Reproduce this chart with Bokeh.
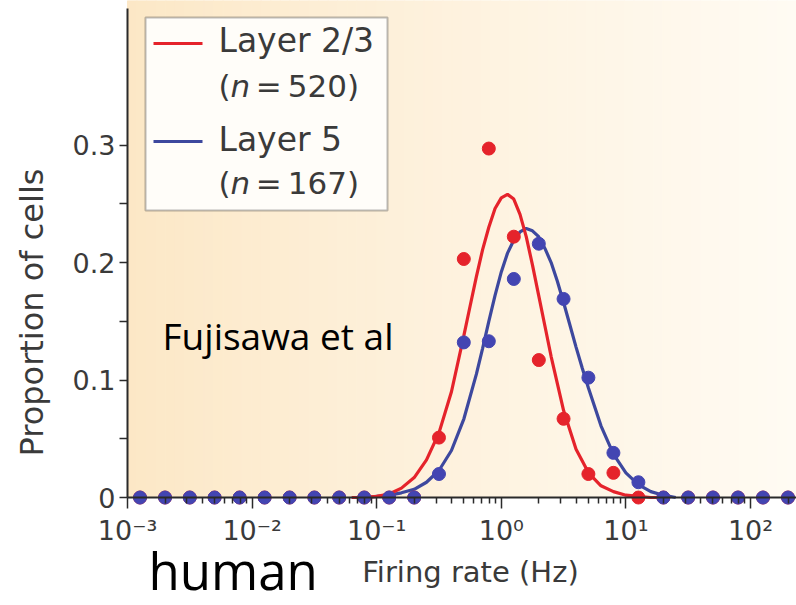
import numpy as np
from bokeh.plotting import figure
from bokeh.models import Range1d, FixedTicker, Label, BoxAnnotation
from bokeh.embed import file_html
from bokeh.resources import INLINE

# ---------------- data ----------------
# bin centres of the firing-rate histogram (Hz)
rate_bins = [0.00126, 0.002, 0.00316, 0.005, 0.00794, 0.0126, 0.02, 0.0316, 0.05,
             0.0794, 0.126, 0.2, 0.316, 0.5, 0.794, 1.26, 2.0, 3.16, 5.0, 7.94,
             12.6, 20.0, 31.6, 50.0, 79.4, 126.0, 200.0]
layer23_prop = [0, 0, 0, 0, 0, 0, 0, 0, 0, 0, 0, 0,
                0.051, 0.203, 0.297, 0.222, 0.117, 0.067, 0.020, 0.021,
                0, 0, 0, 0, 0, 0, 0]
layer5_prop = [0, 0, 0, 0, 0, 0, 0, 0, 0, 0, 0, 0,
               0.020, 0.132, 0.133, 0.186, 0.216, 0.169, 0.102, 0.038, 0.013,
               0, 0, 0, 0, 0, 0]

# fitted curves (rate in Hz, proportion)
layer23_fit_rate = [0.0631, 0.0794, 0.1, 0.126, 0.158, 0.2, 0.251, 0.316, 0.398, 0.501,
                    0.562, 0.631, 0.708, 0.794, 0.891, 1.0, 1.122, 1.259, 1.413, 1.585,
                    1.778, 1.995, 2.239, 2.512, 3.162, 3.981, 5.012, 6.31, 7.943, 10.0,
                    12.59, 15.85, 19.95]
layer23_fit = [0.000, 0.000, 0.001, 0.003, 0.008, 0.017, 0.032, 0.055, 0.090, 0.138,
               0.163, 0.188, 0.211, 0.230, 0.246, 0.255, 0.258, 0.254, 0.241, 0.222,
               0.198, 0.172, 0.146, 0.120, 0.074, 0.041, 0.021, 0.010, 0.005, 0.002,
               0.001, 0.000, 0.000]
layer5_fit_rate = [0.0631, 0.0794, 0.1, 0.126, 0.158, 0.2, 0.251, 0.316, 0.398, 0.501,
                   0.631, 0.708, 0.794, 0.891, 1.0, 1.122, 1.259, 1.413, 1.585, 1.778,
                   1.995, 2.239, 2.512, 2.818, 3.162, 3.548, 3.981, 4.467, 5.012, 6.31,
                   7.943, 10.0, 12.59, 15.85, 19.95, 25.12]
layer5_fit = [0.000, 0.000, 0.001, 0.002, 0.004, 0.007, 0.013, 0.023, 0.040, 0.067,
              0.105, 0.127, 0.150, 0.172, 0.192, 0.208, 0.219, 0.226, 0.229, 0.227,
              0.222, 0.212, 0.200, 0.184, 0.166, 0.147, 0.128, 0.110, 0.093, 0.061,
              0.037, 0.021, 0.011, 0.005, 0.002, 0.000]

x_ticks = [0.001, 0.01, 0.1, 1.0, 10.0, 100.0]
x_tick_labels = ["10\u207b\u00b3", "10\u207b\u00b2", "10\u207b\u00b9", "10\u2070", "10\u00b9", "10\u00b2"]
y_ticks = [0.0, 0.1, 0.2, 0.3]
y_tick_labels = ["0", "0.1", "0.2", "0.3"]
y_minor_ticks = [0.05, 0.15, 0.25]

legend_names = ["Layer 2/3", "Layer 5"]
legend_counts = ["520", "167"]

# ---------------- styling ----------------
RED = "#e5232b"
BLUE_LINE = "#3d489e"
BLUE_DOT = "#4345b2"
AXIS = "#2a2a2a"
TICKTXT = "#3a3a3a"
FONT = "DejaVu Sans"
ANNO_FONT = "Open Sans"

W, H = 796, 605
# the frame fills the whole canvas; axes are pinned inside it
X_LO, X_HI = 10 ** -4.0193, 10 ** 2.3692
Y_LO, Y_HI = -0.0919, 0.4230
AX_X0 = 1e-3          # x where the y axis sits
AX_YTOP = 0.4162      # top end of the y axis line

p = figure(width=W, height=H, x_axis_type="log",
           x_range=Range1d(X_LO, X_HI), y_range=Range1d(Y_LO, Y_HI),
           output_backend="svg", toolbar_location=None,
           min_border_left=0, min_border_right=0, min_border_top=0,
           min_border_bottom=0)
p.outline_line_color = None
p.grid.visible = False
p.background_fill_color = "white"
p.border_fill_color = "white"

# background gradient (peach on the left -> almost white on the right)
n = 70
edges = np.linspace(np.log10(AX_X0), np.log10(X_HI), n + 1)
c0 = np.array([252, 231, 197])
c1 = np.array([255, 251, 243])
cols = []
for i in range(n):
    t = (i + 0.5) / n
    c = c0 + (c1 - c0) * (t ** 0.85)
    cols.append("#%02x%02x%02x" % tuple(int(round(v)) for v in c))
p.quad(left=list(10 ** edges[:-1]), right=list(10 ** edges[1:]), bottom=0, top=Y_HI,
       fill_color=cols, line_color=cols, line_width=1)

# fitted curves
p.line(layer5_fit_rate, layer5_fit, line_color=BLUE_LINE, line_width=3.2)
p.line(layer23_fit_rate, layer23_fit, line_color=RED, line_width=3.2)
# data points
p.scatter(rate_bins, layer23_prop, size=13, fill_color=RED, line_color=RED)
p.scatter(rate_bins, layer5_prop, size=13, fill_color=BLUE_DOT, line_color=BLUE_DOT)

# x axis pinned at y = 0
xa = p.xaxis[0]
xa.fixed_location = 0
xa.bounds = (AX_X0, X_HI)
xa.ticker = FixedTicker(ticks=x_ticks,
                        minor_ticks=[k * d for d in x_ticks for k in range(2, 10)])
xa.major_label_overrides = dict(zip(x_ticks, x_tick_labels))
xa.major_label_text_font = FONT
xa.major_label_text_font_size = "27px"
xa.major_label_text_color = TICKTXT
xa.major_label_standoff = 6
xa.axis_line_color = AXIS
xa.axis_line_width = 2
xa.major_tick_line_color = AXIS
xa.minor_tick_line_color = AXIS
xa.major_tick_line_width = 1.5
xa.minor_tick_line_width = 1.5
xa.major_tick_in = 0
xa.major_tick_out = 11
xa.minor_tick_in = 0
xa.minor_tick_out = 6

# y axis pinned at x = 1e-3
ya = p.yaxis[0]
ya.fixed_location = AX_X0
ya.bounds = (0, AX_YTOP)
ya.ticker = FixedTicker(ticks=y_ticks, minor_ticks=y_minor_ticks)
ya.major_label_overrides = dict(zip(y_ticks, y_tick_labels))
ya.major_label_text_font = FONT
ya.major_label_text_font_size = "27px"
ya.major_label_text_color = TICKTXT
ya.major_label_standoff = 4
ya.axis_line_color = AXIS
ya.axis_line_width = 2
ya.major_tick_line_color = AXIS
ya.minor_tick_line_color = AXIS
ya.major_tick_line_width = 1.5
ya.minor_tick_line_width = 1.5
ya.major_tick_in = 0
ya.major_tick_out = 8
ya.minor_tick_in = 0
ya.minor_tick_out = 8


def sy(cy):
    return H - cy


def lab(text, cx, cy, fs, font=FONT, color=TICKTXT, style="normal", angle=0,
        align="left", baseline="alphabetic"):
    # cy: wanted baseline in canvas pixels; Bokeh's alphabetic anchor sits
    # about 0.41 em above the drawn baseline, so compensate for it
    if baseline == "alphabetic":
        cy = cy - 0.41 * fs
    p.add_layout(Label(x=cx, y=sy(cy), x_units="screen", y_units="screen",
                       text=text, text_font=font, text_font_size=f"{fs}px",
                       text_color=color, text_font_style=style, angle=angle,
                       text_align=align, text_baseline=baseline))


def box(l, r, t, b, fill, line=None, lw=0):
    p.add_layout(BoxAnnotation(left=l, right=r, top=sy(t), bottom=sy(b),
                               left_units="screen", right_units="screen",
                               top_units="screen", bottom_units="screen",
                               fill_color=fill, fill_alpha=1,
                               line_color=line, line_width=lw))


# axis titles
lab("Proportion of cells", 31, 312, 32, angle=np.pi / 2, align="center",
    baseline="middle")
lab("Firing rate (Hz)", 470, 583, 29, align="center")

# legend
box(145, 387, 17, 210, "#fffdf9", "#1e1e1e", 2)
for i, (name, cnt, colr) in enumerate(zip(legend_names, legend_counts, [RED, BLUE_LINE])):
    ly = 43 + 98 * i
    box(153, 202, ly - 1.6, ly + 1.6, colr)
    lab(name, 218, 54 + 99 * i, 33)
    lab("(", 218, 98 + 97 * i, 31)
    lab("n", 230, 98 + 97 * i, 31, style="italic")
    lab("\u2009=\u2009" + cnt + ")", 249, 98 + 97 * i, 31)

# annotations added on the slide
lab("Fujisawa et al", 162, 350, 37, font=ANNO_FONT, color="black")
lab("human", 148, 590, 51, font=ANNO_FONT, color="black")

open("out.html", "w").write(file_html(p, INLINE))
